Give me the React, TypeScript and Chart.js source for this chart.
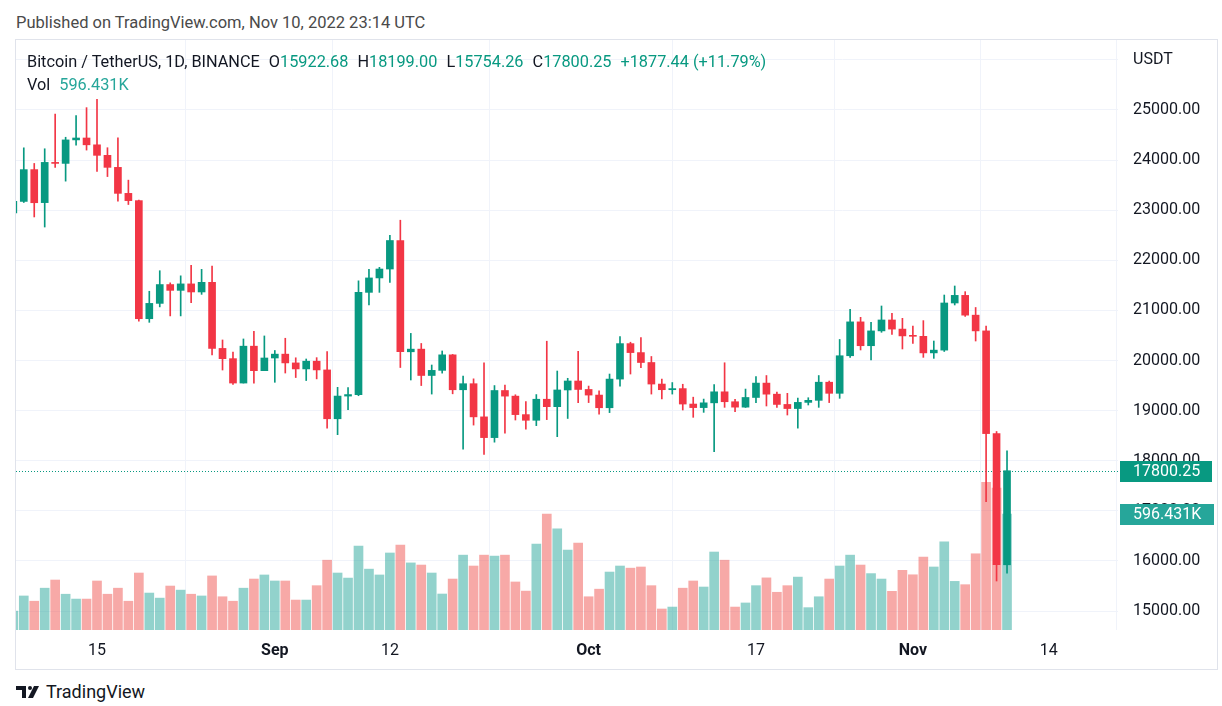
import React, { useEffect, useRef } from 'react';
import { Chart, registerables } from 'chart.js';

Chart.register(...registerables);

const dates = [
  'Aug 7','Aug 8','Aug 9','Aug 10','Aug 11','Aug 12','Aug 13','Aug 14','Aug 15','Aug 16','Aug 17','Aug 18','Aug 19','Aug 20','Aug 21','Aug 22','Aug 23','Aug 24','Aug 25','Aug 26','Aug 27','Aug 28','Aug 29','Aug 30','Aug 31',
  'Sep 1','Sep 2','Sep 3','Sep 4','Sep 5','Sep 6','Sep 7','Sep 8','Sep 9','Sep 10','Sep 11','Sep 12','Sep 13','Sep 14','Sep 15','Sep 16','Sep 17','Sep 18','Sep 19','Sep 20','Sep 21','Sep 22','Sep 23','Sep 24','Sep 25','Sep 26','Sep 27','Sep 28','Sep 29','Sep 30',
  'Oct 1','Oct 2','Oct 3','Oct 4','Oct 5','Oct 6','Oct 7','Oct 8','Oct 9','Oct 10','Oct 11','Oct 12','Oct 13','Oct 14','Oct 15','Oct 16','Oct 17','Oct 18','Oct 19','Oct 20','Oct 21','Oct 22','Oct 23','Oct 24','Oct 25','Oct 26','Oct 27','Oct 28','Oct 29','Oct 30','Oct 31',
  'Nov 1','Nov 2','Nov 3','Nov 4','Nov 5','Nov 6','Nov 7','Nov 8','Nov 9','Nov 10',
];

const opens = [
  22944, 23175, 23810, 23151, 23954, 23934, 24403, 24441, 24305, 24095, 23855, 23336, 23191, 20834, 21140, 21516, 21400, 21529, 21368, 21560, 20241, 20037, 19550, 20286, 19797,
  20050, 20127, 19952, 19832, 19986, 19812, 18837, 19290, 19320, 21360, 21648, 21826, 22395, 20174, 20227, 19701, 19803, 20113, 19416, 19537, 18875, 18461, 19401, 19289, 18920, 18807, 19227, 19079, 19412, 19591,
  19422, 19310, 19057, 19629, 20337, 20158, 19960, 19530, 19417, 19439, 19131, 19060, 19155, 19375, 19177, 19069, 19262, 19549, 19328, 19123, 19041, 19164, 19205, 19567, 19345, 20095, 20771, 20295, 20591, 20809, 20627,
  20490, 20483, 20152, 20207, 21148, 21300, 20905, 20591, 18541, 15922.68,
];
const highs = [
  23400, 24245, 23933, 24226, 24918, 24456, 24888, 25047, 25211, 24247, 24446, 23600, 23203, 21382, 21792, 21550, 21690, 21900, 21819, 21886, 20410, 20170, 20430, 20580, 20490,
  20200, 20444, 20054, 20030, 20057, 20180, 19464, 19458, 21590, 21820, 21860, 22500, 22800, 20541, 20340, 19910, 20190, 20121, 19690, 19634, 19956, 19500, 19510, 19316, 19180, 19320, 20385, 19790, 19645, 20185,
  19490, 19395, 19730, 20475, 20365, 20456, 20080, 19630, 19560, 19526, 19268, 19230, 19520, 19955, 19227, 19430, 19677, 19700, 19370, 19345, 19250, 19257, 19700, 19590, 20420, 21020, 20862, 20762, 21088, 20942, 20842,
  20689, 20796, 20389, 21307, 21487, 21374, 21058, 20689, 18583, 18199.0,
];
const lows = [
  22841, 23154, 22865, 22664, 23852, 23580, 24296, 24200, 23773, 23671, 23180, 23113, 20783, 20762, 21070, 20890, 20890, 21152, 21320, 20113, 19810, 19521, 19550, 19550, 19797,
  19565, 19750, 19660, 19600, 19633, 18650, 18520, 19020, 19297, 21111, 21360, 21556, 19860, 19611, 19500, 19330, 19748, 19335, 18232, 18711, 18125, 18370, 18550, 18812, 18630, 18700, 18820, 18480, 18843, 19160,
  19160, 18930, 18960, 19490, 19730, 19855, 19330, 19235, 19330, 19012, 18866, 18965, 18180, 19065, 18980, 19063, 19160, 19092, 19065, 18912, 18650, 19112, 19065, 19160, 19245, 20063, 20210, 20010, 20563, 20523, 20230,
  20343, 20063, 20043, 20180, 21108, 20880, 20389, 17182, 15599, 15754.26,
];
const closes = [
  23175, 23810, 23149, 23954, 23934, 24403, 24441, 24305, 24095, 23855, 23336, 23191, 20834, 21140, 21516, 21400, 21529, 21368, 21560, 20241, 20037, 19550, 20286, 19797, 20050,
  20127, 19952, 19832, 19986, 19812, 18837, 19290, 19320, 21360, 21648, 21826, 22395, 20174, 20227, 19701, 19803, 20113, 19416, 19537, 18875, 18461, 19401, 19289, 18920, 18807, 19227, 19079, 19412, 19591, 19422,
  19310, 19057, 19629, 20337, 20158, 19960, 19530, 19417, 19439, 19131, 19060, 19155, 19375, 19177, 19069, 19262, 19549, 19328, 19123, 19041, 19164, 19205, 19567, 19345, 20095, 20771, 20295, 20591, 20809, 20627, 20491,
  20483, 20152, 20207, 21148, 21300, 20905, 20591, 18541, 15922.81, 17800.25,
];
// volume in thousands (K)
const volumes = [
  97, 175, 148, 215, 257, 184, 159, 159, 252, 184, 215, 148, 293, 190, 164, 226, 205, 184, 175, 278, 171, 148, 215, 262, 283,
  252, 252, 154, 154, 228, 359, 293, 267, 432, 313, 283, 396, 437, 345, 334, 293, 185, 262, 385, 329, 385, 380, 385, 247, 200, 442, 596, 520, 411, 447,
  171, 210, 298, 329, 318, 324, 228, 108, 118, 215, 252, 221, 401, 359, 118, 139, 228, 268, 194, 228, 272, 115, 171, 262, 329, 385, 334, 290, 262, 199, 307,
  284, 375, 324, 454, 250, 233, 392, 759, 730, 596.431,
];

const xTickValues = [8, 25, 36, 55, 71, 86, 99];
const xTickLabels = ['15', 'Sep', '12', 'Oct', '17', 'Nov', '14'];
const monthLabels = ['Sep', 'Oct', 'Nov'];
const yTickValues = [15000, 16000, 17000, 18000, 19000, 20000, 21000, 22000, 23000, 24000, 25000, 26000];
const yTickLabels = ['15000.00', '16000.00', '17000.00', '18000.00', '19000.00', '20000.00', '21000.00', '22000.00', '23000.00', '24000.00', '25000.00', 'USDT'];

const UP = '#089981';
const DOWN = '#f23645';
const UP_VOL = 'rgba(38,166,154,0.5)';
const DOWN_VOL = 'rgba(239,83,80,0.5)';
const FONT = 'Roboto, "Noto Sans", sans-serif';

const last = closes.length - 1;
const change = closes[last] - closes[last - 1];
const changePct = (change / closes[last - 1]) * 100;

const zeroPadding = (scale: any) => {
  scale.paddingTop = 0;
  scale.paddingBottom = 0;
  scale.paddingLeft = 0;
  scale.paddingRight = 0;
};

const overlayPlugin = {
  id: 'tvOverlay',
  beforeDatasetsDraw(chart: any) {
    const { ctx, chartArea, scales } = chart;
    const y = Math.round(scales.y.getPixelForValue(closes[last])) + 0.5;
    ctx.save();
    ctx.strokeStyle = UP;
    ctx.lineWidth = 1;
    ctx.setLineDash([1, 2]);
    ctx.beginPath();
    ctx.moveTo(chartArea.left, y);
    ctx.lineTo(chartArea.right, y);
    ctx.stroke();
    ctx.restore();
  },
  afterDraw(chart: any) {
    const { ctx, chartArea, scales } = chart;
    ctx.save();
    ctx.font = `16px ${FONT}`;
    ctx.textBaseline = 'middle';
    ctx.textAlign = 'left';
    // price tag
    const py = Math.round(scales.y.getPixelForValue(closes[last]));
    ctx.fillStyle = UP;
    ctx.fillRect(chartArea.right + 2, py - 10, 92, 21);
    ctx.fillStyle = '#ffffff';
    ctx.fillText(closes[last].toFixed(2), chartArea.right + 15, py + 1);
    // volume tag
    const vy = Math.round(scales.vol.getPixelForValue(volumes[last]));
    ctx.fillStyle = '#26a69a';
    ctx.fillRect(chartArea.right + 2, vy - 10, 94, 21);
    ctx.fillStyle = '#ffffff';
    ctx.fillText(volumes[last].toFixed(3) + 'K', chartArea.right + 15, vy + 1);
    ctx.restore();
  },
};

export default function App() {
  const canvasRef = useRef<HTMLCanvasElement | null>(null);

  useEffect(() => {
    const canvas = canvasRef.current;
    if (!canvas) return;
    const up = closes.map((c, i) => c >= opens[i]);
    const candleColors = up.map((u) => (u ? UP : DOWN));
    const volColors = up.map((u) => (u ? UP_VOL : DOWN_VOL));

    const chart = new Chart(canvas, {
      type: 'bar',
      data: {
        datasets: [
          {
            label: 'Body',
            data: dates.map((_, i) => ({ x: i, y: [opens[i], closes[i]] })) as any,
            backgroundColor: candleColors,
            barThickness: 7,
            minBarLength: 1,
            grouped: false,
            yAxisID: 'y',
            order: 1,
            borderWidth: 0,
          } as any,
          {
            label: 'Wick',
            data: dates.map((_, i) => ({ x: i, y: [lows[i], highs[i]] })) as any,
            backgroundColor: candleColors,
            barThickness: 1,
            grouped: false,
            yAxisID: 'y',
            order: 2,
            borderWidth: 0,
          } as any,
          {
            label: 'Volume',
            data: dates.map((_, i) => ({ x: i, y: volumes[i] })) as any,
            backgroundColor: volColors,
            barThickness: 9,
            grouped: false,
            yAxisID: 'vol',
            order: 3,
            borderWidth: 0,
          } as any,
        ],
      },
      options: {
        animation: false,
        responsive: false,
        maintainAspectRatio: false,
        layout: { padding: 0 },
        plugins: { legend: { display: false }, tooltip: { enabled: false } },
        scales: {
          x: {
            type: 'linear',
            min: 0.256,
            max: 105.61,
            offset: false,
            grid: { color: '#f0f3fa', drawTicks: false },
            border: { display: false },
            afterBuildTicks: (scale: any) => {
              scale.ticks = xTickValues.map((v) => ({ value: v }));
            },
            afterFit: (scale: any) => {
              scale.height = 39;
              zeroPadding(scale);
            },
            ticks: {
              autoSkip: false,
              maxRotation: 0,
              padding: 11,
              color: '#131722',
              font: (ctx: any) => ({
                family: FONT,
                size: 16,
                weight: ctx.tick && monthLabels.includes(ctx.tick.label) ? 'bold' : 'normal',
              }),
              callback: (value: any) => {
                const k = xTickValues.indexOf(Number(value));
                return k >= 0 ? xTickLabels[k] : '';
              },
            },
          },
          y: {
            type: 'linear',
            position: 'right',
            min: 14621,
            max: 26397,
            grid: { color: '#f0f3fa', drawTicks: false },
            border: { display: false },
            afterBuildTicks: (scale: any) => {
              scale.ticks = yTickValues.map((v) => ({ value: v }));
            },
            afterFit: (scale: any) => {
              scale.width = 99;
              zeroPadding(scale);
            },
            ticks: {
              padding: 15,
              color: '#131722',
              font: { family: FONT, size: 16 },
              callback: (value: any) => {
                const k = yTickValues.indexOf(Number(value));
                return k >= 0 ? yTickLabels[k] : '';
              },
            },
          },
          vol: {
            type: 'linear',
            display: false,
            min: 0,
            max: 3034,
            grid: { display: false },
          },
        },
      } as any,
      plugins: [overlayPlugin],
    });
    return () => chart.destroy();
  }, []);

  const green = { color: UP };
  const gap = { marginLeft: 9 };

  return (
    <div
      style={{
        position: 'absolute',
        left: 0,
        top: 0,
        width: 1222,
        height: 706,
        background: '#ffffff',
        fontFamily: FONT,
        overflow: 'hidden',
      }}
    >
      <div style={{ position: 'absolute', left: 16, top: 13, fontSize: 16.5, lineHeight: '20px', color: '#4a4a4a', whiteSpace: 'nowrap' }}>
        Published on TradingView.com, Nov 10, 2022 23:14 UTC
      </div>
      <div
        style={{
          position: 'absolute',
          left: 15,
          top: 39,
          width: 1201,
          height: 629,
          border: '1px solid #e0e3eb',
        }}
      >
        <canvas ref={canvasRef} width={1201} height={629} style={{ display: 'block', width: 1201, height: 629 }} />
        <div style={{ position: 'absolute', left: 11, top: 12, fontSize: 16.3, lineHeight: '20px', color: '#131722', whiteSpace: 'nowrap' }}>
          <span>Bitcoin / TetherUS, 1D, BINANCE</span>
          <span style={gap}>O<span style={green}>{opens[last].toFixed(2)}</span></span>
          <span style={gap}>H<span style={green}>{highs[last].toFixed(2)}</span></span>
          <span style={gap}>L<span style={green}>{lows[last].toFixed(2)}</span></span>
          <span style={gap}>C<span style={green}>{closes[last].toFixed(2)}</span></span>
          <span style={{ ...gap, ...green }}>
            {(change >= 0 ? '+' : '') + change.toFixed(2)} ({(changePct >= 0 ? '+' : '') + changePct.toFixed(2)}%)
          </span>
        </div>
        <div style={{ position: 'absolute', left: 11, top: 35, fontSize: 16.3, lineHeight: '20px', color: '#131722', whiteSpace: 'nowrap' }}>
          <span>Vol</span>
          <span style={{ ...gap, color: '#26a69a' }}>{volumes[last].toFixed(3)}K</span>
        </div>
      </div>
      <div style={{ position: 'absolute', left: 16, top: 683, height: 18, display: 'flex', alignItems: 'center' }}>
        <svg width="26" height="14" viewBox="0 0 26 14" style={{ display: 'block' }}>
          <rect x="0" y="1" width="10" height="4" fill="#131722" />
          <rect x="6" y="1" width="4" height="12" fill="#131722" />
          <circle cx="14" cy="3" r="2" fill="#131722" />
          <polygon points="18,1 23,1 17,13 12,13" fill="#131722" />
        </svg>
        <span style={{ marginLeft: 4, fontSize: 18, lineHeight: '18px', color: '#131722' }}>TradingView</span>
      </div>
    </div>
  );
}
